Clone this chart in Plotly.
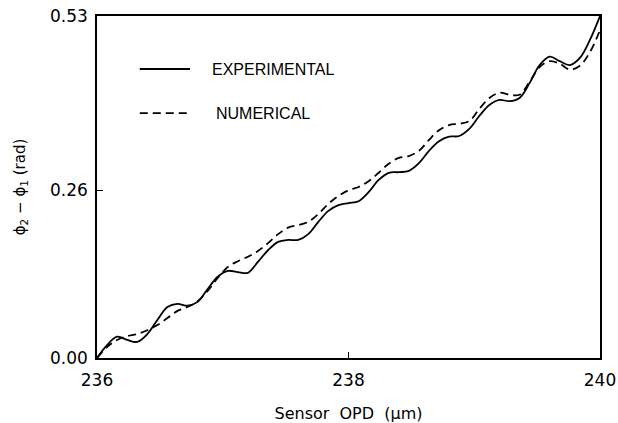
import plotly.graph_objects as go

# Sensor optical path difference (micrometres)
opd_um = [
    236.00, 236.08, 236.16, 236.24, 236.32, 236.40, 236.48, 236.56, 236.64, 236.72,
    236.80, 236.88, 236.96, 237.04, 237.12, 237.20, 237.28, 237.36, 237.44, 237.52,
    237.60, 237.68, 237.76, 237.84, 237.92, 238.00, 238.08, 238.16, 238.24, 238.32,
    238.40, 238.48, 238.56, 238.64, 238.72, 238.80, 238.88, 238.96, 239.04, 239.12,
    239.20, 239.28, 239.36, 239.44, 239.52, 239.60, 239.68, 239.76, 239.84, 239.92,
    240.00,
]

# Phase difference phi2 - phi1 (rad), measured
phase_experimental = [
    0.000, 0.020, 0.033, 0.028, 0.025, 0.037, 0.059, 0.079, 0.084, 0.081,
    0.087, 0.107, 0.126, 0.135, 0.133, 0.132, 0.149, 0.167, 0.180, 0.183,
    0.183, 0.192, 0.211, 0.228, 0.237, 0.240, 0.243, 0.257, 0.276, 0.287,
    0.288, 0.290, 0.302, 0.321, 0.336, 0.343, 0.344, 0.355, 0.375, 0.392,
    0.400, 0.398, 0.403, 0.426, 0.454, 0.467, 0.460, 0.454, 0.465, 0.493,
    0.530,
]

# Phase difference phi2 - phi1 (rad), simulated
phase_numerical = [
    0.000, 0.017, 0.028, 0.034, 0.037, 0.043, 0.051, 0.062, 0.073, 0.079,
    0.088, 0.104, 0.124, 0.141, 0.150, 0.157, 0.166, 0.178, 0.192, 0.202,
    0.206, 0.211, 0.223, 0.239, 0.251, 0.260, 0.265, 0.274, 0.287, 0.301,
    0.310, 0.313, 0.321, 0.338, 0.353, 0.361, 0.363, 0.367, 0.386, 0.403,
    0.411, 0.408, 0.408, 0.428, 0.451, 0.460, 0.456, 0.447, 0.453, 0.474,
    0.508,
]

series_names = ["EXPERIMENTAL", "NUMERICAL"]
x_ticks = [236, 238, 240]
x_tick_text = ["236", "238", "240"]
y_ticks = [0.0, 0.26, 0.53]
y_tick_text = ["0.00", "0.26", "0.53"]

solid_style = dict(color="black", width=1.8)
dashed_style = dict(color="black", width=1.8, dash="8px,5px")

fig = go.Figure()
fig.add_trace(go.Scatter(
    x=opd_um, y=phase_experimental, mode="lines", name=series_names[0],
    line=dict(shape="spline", smoothing=1.0, **solid_style), showlegend=False,
))
fig.add_trace(go.Scatter(
    x=opd_um, y=phase_numerical, mode="lines", name=series_names[1],
    line=dict(shape="spline", smoothing=1.0, **dashed_style), showlegend=False,
))

# Key drawn inside the axes, upper left (positions in paper fractions)
key_rows = [
    (series_names[0], solid_style, 0.845, 0.225),
    (series_names[1], dashed_style, 0.716, 0.232),
]
for name, style, yp, xt in key_rows:
    fig.add_shape(type="line", xref="paper", yref="paper",
                  x0=0.085, x1=0.185, y0=yp, y1=yp, line=style)
    fig.add_annotation(text=name, xref="paper", yref="paper",
                       x=xt, y=yp, xanchor="left", yanchor="middle",
                       showarrow=False,
                       font=dict(family="Liberation Sans", size=16, color="black"))

axis_common = dict(
    showline=True, linecolor="black", linewidth=1.5, mirror=True,
    ticks="inside", ticklen=6, tickwidth=1.2, tickcolor="black",
    showgrid=False, zeroline=False, automargin=False,
    tickfont=dict(family="DejaVu Sans", size=17, color="black"),
)

fig.update_xaxes(
    range=[236, 240], tickvals=x_ticks, ticktext=x_tick_text,
    ticklabelstandoff=6,
    title=dict(text="Sensor  OPD  (µm)", standoff=19,
               font=dict(family="DejaVu Sans", size=16, color="black")),
    **axis_common,
)
fig.update_yaxes(
    range=[0, 0.53], tickvals=y_ticks, ticktext=y_tick_text,
    ticklabelstandoff=4,
    title=dict(text="ϕ<sub>2</sub> − ϕ<sub>1</sub> (rad)", standoff=21,
               font=dict(family="DejaVu Sans", size=15, color="black")),
    **axis_common,
)

fig.update_layout(
    width=618, height=423,
    margin=dict(l=97, r=18, t=16, b=65),
    paper_bgcolor="white", plot_bgcolor="white",
)

fig.write_html("out.html")
